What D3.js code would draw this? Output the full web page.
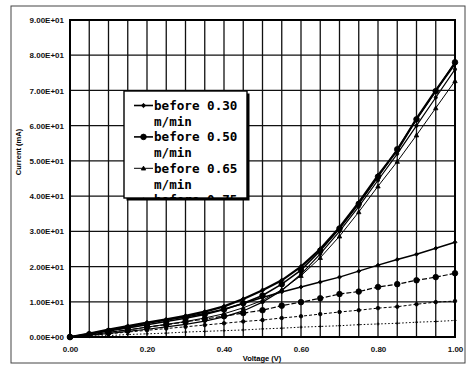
<!DOCTYPE html>
<html>
<head>
<meta charset="utf-8">
<script src="https://cdn.jsdelivr.net/npm/d3@7"></script>
<style>
  body { margin: 0; background: #fff; }
  svg { display: block; }
  .tick text { font-family: "Liberation Sans", Arial, sans-serif; font-weight: bold; font-size: 8px; fill: #111; }
</style>
</head>
<body>
<div id="chart"></div>
<script>
// voltage steps (V)
const voltage = [0, 0.05, 0.1, 0.15, 0.2, 0.25, 0.3, 0.35, 0.4, 0.45, 0.5,
  0.55, 0.6, 0.65, 0.7, 0.75, 0.8, 0.85, 0.9, 0.95, 1.0];

// current (mA)
const before030 = [0, 1.0, 2.1, 3.1, 4.1, 5.0, 6.0, 7.2, 8.7, 10.8, 13.3, 16.1, 20.0, 25.0, 31.1, 38.2, 45.9, 53.0, 62.0, 70.0, 77.6];
const before050 = [0, 0.8, 1.7, 2.6, 3.5, 4.4, 5.3, 6.4, 7.8, 9.6, 11.8, 15.0, 19.0, 24.5, 30.8, 37.8, 45.5, 53.3, 61.8, 69.8, 78.0];
const before065 = [0, 0.6, 1.3, 2.0, 2.8, 3.6, 4.4, 5.4, 6.6, 8.3, 10.4, 13.4, 17.4, 22.5, 28.6, 35.5, 42.8, 49.8, 57.3, 65.0, 72.7];
const before075 = [0, 0.5, 1.0, 1.6, 2.2, 2.9, 3.6, 4.5, 5.7, 7.4, 9.9, 13.2, 17.8, 23.6, 30.0, 37.0, 44.5, 52.0, 60.0, 68.0, 76.0];
const after030 = [0, 0.9, 1.9, 2.9, 3.9, 4.8, 5.7, 6.7, 7.9, 9.5, 11.2, 12.8, 14.2, 15.6, 17.0, 18.7, 20.4, 22.0, 23.5, 25.2, 26.9];
const after050 = [0, 0.6, 1.3, 2.0, 2.8, 3.5, 4.3, 5.1, 5.9, 6.8, 7.6, 8.9, 9.9, 11.0, 12.2, 12.9, 14.2, 15.0, 16.1, 17.0, 18.1];
const after065 = [0, 0.4, 0.9, 1.4, 1.9, 2.4, 2.9, 3.4, 3.9, 4.4, 4.8, 5.4, 5.9, 6.5, 7.1, 7.6, 8.2, 8.6, 9.3, 9.9, 10.2];
const after075 = [0, 0.2, 0.4, 0.7, 0.9, 1.1, 1.4, 1.6, 1.8, 2.0, 2.3, 2.5, 2.8, 3.0, 3.2, 3.5, 3.7, 3.9, 4.2, 4.4, 4.7];

const seriesNames = ['before 0.30', 'before 0.50', 'before 0.65', 'before 0.75',
  'after 0.30', 'after 0.50', 'after 0.65', 'after 0.75'];
const seriesValues = [before030, before050, before065, before075, after030, after050, after065, after075];

const xTicks = [0, 0.2, 0.4, 0.6, 0.8, 1.0];
const yTicks = [0, 10, 20, 30, 40, 50, 60, 70, 80, 90];

// line look per series
const looks = [
  { w: 2.2, dash: null, mark: 'diamond', r: 2.2 },
  { w: 1.6, dash: null, mark: 'circle', r: 2.8 },
  { w: 1.0, dash: null, mark: 'triangle', r: 2.2 },
  { w: 1.2, dash: null, mark: 'circle', r: 1.6 },
  { w: 1.5, dash: null, mark: 'diamond', r: 2.0 },
  { w: 1.2, dash: '5 2', mark: 'circle', r: 2.8 },
  { w: 1.0, dash: '3 2', mark: 'circle', r: 1.8 },
  { w: 1.0, dash: '1.5 2', mark: 'cross', r: 1.6 },
];

const width = 470, height = 368;
const plotLeft = 70, plotRight = 455, plotTop = 20, plotBottom = 337;

const svg = d3.select('#chart').append('svg')
  .attr('width', width)
  .attr('height', height);

// outer frame
svg.append('rect')
  .attr('x', 11).attr('y', 6)
  .attr('width', 454).attr('height', 357)
  .attr('fill', 'none').attr('stroke', '#444').attr('stroke-width', 1);

const x = d3.scaleLinear().domain([0, 1]).range([plotLeft, plotRight]);
const y = d3.scaleLinear().domain([0, 90]).range([plotBottom, plotTop]);

// grid
const grid = svg.append('g').attr('stroke', '#111').attr('stroke-width', 1.3);
grid.selectAll('line.v')
  .data(d3.range(0, 21).map(i => i / 20))
  .enter().append('line')
  .attr('x1', d => x(d)).attr('x2', d => x(d))
  .attr('y1', plotTop).attr('y2', plotBottom);
grid.selectAll('line.h')
  .data(yTicks)
  .enter().append('line')
  .attr('x1', plotLeft).attr('x2', plotRight)
  .attr('y1', d => y(d)).attr('y2', d => y(d));

svg.append('rect')
  .attr('x', plotLeft).attr('y', plotTop)
  .attr('width', plotRight - plotLeft).attr('height', plotBottom - plotTop)
  .attr('fill', 'none').attr('stroke', '#000').attr('stroke-width', 2);

// axes (labels only)
const xAxis = d3.axisBottom(x).tickValues(xTicks).tickSize(0).tickPadding(9)
  .tickFormat(d3.format('.2f'));
svg.append('g')
  .attr('transform', `translate(0,${plotBottom})`)
  .call(xAxis)
  .select('.domain').remove();

const yAxis = d3.axisLeft(y).tickValues(yTicks).tickSize(0).tickPadding(6)
  .tickFormat(d => d === 0 ? '0.00E+00' : (d / 10).toFixed(2) + 'E+01');
svg.append('g')
  .attr('transform', `translate(${plotLeft},0)`)
  .call(yAxis)
  .select('.domain').remove();

svg.append('text')
  .attr('x', 262).attr('y', 361)
  .attr('text-anchor', 'middle')
  .style('font-family', '"Liberation Sans", Arial, sans-serif')
  .style('font-weight', 'bold').style('font-size', '7.5px')
  .text('Voltage (V)');

svg.append('text')
  .attr('transform', 'translate(21,152) rotate(-90)')
  .attr('text-anchor', 'middle')
  .style('font-family', '"Liberation Sans", Arial, sans-serif')
  .style('font-weight', 'bold').style('font-size', '7.5px')
  .text('Current (mA)');

function markerPath(kind, r) {
  if (kind === 'diamond') return `M0,${-r}L${r},0L0,${r}L${-r},0Z`;
  if (kind === 'triangle') return `M0,${-r}L${r},${r * 0.8}L${-r},${r * 0.8}Z`;
  if (kind === 'cross') return `M${-r},0L${r},0M0,${-r}L0,${r}`;
  return d3.symbol(d3.symbolCircle, Math.PI * r * r)();
}

const line = d3.line()
  .x((d, i) => x(voltage[i]))
  .y(d => y(d));

seriesValues.forEach((vals, k) => {
  const lk = looks[k];
  const g = svg.append('g');
  g.append('path')
    .attr('d', line(vals))
    .attr('fill', 'none')
    .attr('stroke', '#000')
    .attr('stroke-width', lk.w)
    .attr('stroke-dasharray', lk.dash);
  g.selectAll('path.m')
    .data(vals)
    .enter().append('path')
    .attr('transform', (d, i) => `translate(${x(voltage[i])},${y(d)})`)
    .attr('d', markerPath(lk.mark, lk.r))
    .attr('fill', '#000')
    .attr('stroke', '#000')
    .attr('stroke-width', 0.8);
});

// legend box, clipped like the original
const lx = 124, ly = 91, lw = 123, lh = 107;
svg.append('rect')
  .attr('x', lx + 2.5).attr('y', ly + 2.5)
  .attr('width', lw).attr('height', lh)
  .attr('fill', '#000');
svg.append('rect')
  .attr('x', lx).attr('y', ly)
  .attr('width', lw).attr('height', lh)
  .attr('fill', '#fff').attr('stroke', '#000').attr('stroke-width', 1.4);

svg.append('clipPath').attr('id', 'legclip')
  .append('rect').attr('x', lx).attr('y', ly).attr('width', lw).attr('height', lh);

const leg = svg.append('g').attr('clip-path', 'url(#legclip)');
const lineGap = 15.7;
seriesNames.forEach((name, k) => {
  const base = 110 + k * 2 * lineGap;
  const lk = looks[k];
  leg.append('line')
    .attr('x1', 134).attr('x2', 153)
    .attr('y1', base - 4.5).attr('y2', base - 4.5)
    .attr('stroke', '#000').attr('stroke-width', Math.min(lk.w, 1.6))
    .attr('stroke-dasharray', lk.dash);
  leg.append('path')
    .attr('transform', `translate(143.5,${base - 4.5})`)
    .attr('d', markerPath(lk.mark, lk.r))
    .attr('fill', '#000').attr('stroke', '#000').attr('stroke-width', 0.8);
  leg.append('text')
    .attr('x', 154).attr('y', base)
    .style('font-family', '"DejaVu Sans Mono", monospace')
    .style('font-weight', 'bold').style('font-size', '12.6px')
    .text(name);
  leg.append('text')
    .attr('x', 154).attr('y', base + lineGap)
    .style('font-family', '"DejaVu Sans Mono", monospace')
    .style('font-weight', 'bold').style('font-size', '12.6px')
    .text('m/min');
});
</script>
</body>
</html>
